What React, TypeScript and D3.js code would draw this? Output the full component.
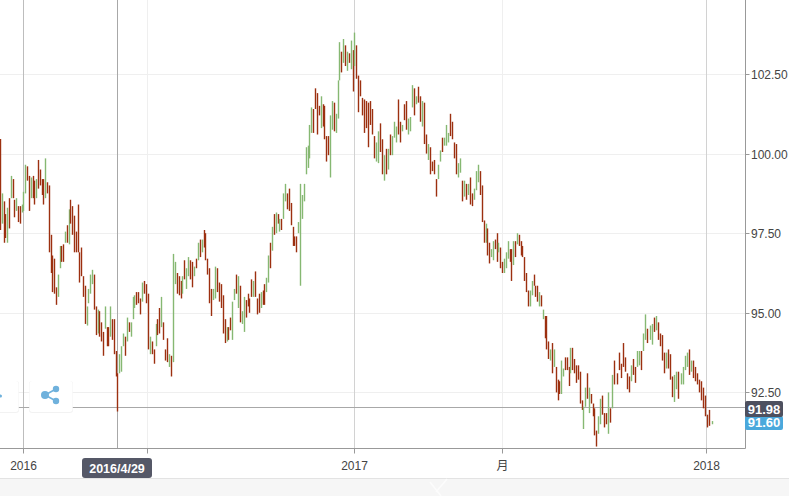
import { useEffect, useRef } from "react";
import * as d3 from "d3";

// [high, low, up?]
type Bar = [number, number, number];

const barsEarly2016: Bar[] = [
  [100.46,97.6,0],[98.75,97.8,1],[98.5,97.2,0],[98.1,97.35,0],[98.3,97.2,1],[98.6,97.65,0],[99.3,98.6,1],[99.2,98.6,0],[98.55,98.0,0],[98.6,98.2,1],
  [98.35,97.85,0],[98.35,97.8,0],[98.4,98.15,1],[98.8,98.2,1],[99.65,98.75,1],[99.6,99.15,0],[99.3,98.2,0],[99.25,98.6,1],[99.3,98.6,0],[99.15,98.4,0],
  [99.2,98.6,1],[99.8,98.9,0],[99.5,99.0,0],[99.2,98.7,0],[99.2,98.4,0],[99.85,98.6,1],[99.1,98.75,0],[99.0,96.9,0],[97.45,96.25,0],[96.8,95.65,0],
  [96.7,95.6,0],[95.8,95.25,0],[96.2,95.5,1],[97.1,96.4,1],[97.1,96.6,0],[97.15,96.6,0],[97.55,97.2,1],[97.75,97.2,0],[98.25,97.15,1],[98.55,97.8,0],
  [98.35,97.45,0],[98.05,96.9,0],[97.55,96.9,0],[98.4,96.9,0],[96.9,95.95,0],[97.05,96.15,0],[96.15,95.5,0],[95.85,94.65,0],[95.2,94.6,1],[95.75,95.3,1],
  [96.2,95.6,1],[96.35,95.9,1],[96.2,95.1,0],[95.2,94.3,0],[95.1,94.35,1],[95.05,94.25,0],[94.7,94.1,0],[94.4,93.65,0],[95.2,94.5,1],[94.55,93.95,0],
  [94.55,93.95,0],[95.2,94.25,1],[94.8,94.15,0],[94.8,93.7,0],[93.8,93.0,0],[93.1,91.9,0],[93.7,93.1,1],
];

const barsMid2016: Bar[] = [
  [93.95,93.15,1],[94.35,93.95,1],[94.25,93.65,0],[94.85,94.1,1],[94.7,94.4,0],[94.7,94.25,1],[95.5,94.8,1],[95.55,95.15,1],[95.65,95.25,0],[95.65,95.3,0],
  [95.45,94.95,0],[95.95,95.35,1],[96,95.6,0],[95.9,95.3,0],[95.6,93.85,0],[94.25,93.7,1],[94.1,93.7,0],[93.85,93.4,0],[94.65,93.95,1],[94.8,94.3,0],
  [95.15,94.35,0],[95.5,94.55,1],[94.7,94.15,0],[93.85,93.5,0],[94.2,93.45,0],[93.7,93.3,1],[93.65,93.0,0],[96.85,93.45,1],[96.6,95.9,1],[96.25,95.6,0],
  [96.15,95.55,0],[96,95.45,0],[96.15,95.6,1],[96.65,96.05,0],[96.4,95.75,1],[96.75,96.15,1],[96.65,96.05,0],[96.6,95.8,0],[96.45,96.15,1],[96.7,96.4,0],
  [97.2,96.65,1],[97.3,96.75,0],[97.3,96.9,1],[97.6,97.05,0],[97.5,96.65,0],[96.7,96.2,0],[96.4,95.3,0],[95.75,94.9,0],[95.75,95.4,1],[96.45,95.45,1],
  [96.4,95.65,0],[95.95,95.35,0],[95.9,95.15,0],[95.55,94.35,0],[94.8,94.05,0],[94.55,94.1,1],[94.55,94.15,0],[94.85,94.45,0],[95.35,94.15,1],[95.75,95.4,1],
  [96.2,95.6,0],[96.15,95.15,1],
];

const barsLate2016: Bar[] = [
  [95.85,94.7,0],[95.05,94.65,1],[95.5,94.4,1],[95.4,94.85,0],[95.6,95.2,0],[95.45,95,0],[96.05,95.5,0],[96,95.5,1],[96.3,95.5,0],[95.45,94.95,0],
  [95.6,95,0],[95.65,95.15,1],[95.7,95.25,0],[95.9,95.25,0],[96.1,95.65,1],[96.8,95.95,1],[97.2,96.4,0],[97.7,96.95,1],[98.1,97.45,0],[98.15,97.5,1],
  [98.1,97.8,0],[97.95,97.55,1],[97.95,97.6,0],[98.75,97.95,1],[99.05,98.5,1],[98.75,98.25,0],[98.9,98.2,0],[98.45,97.75,0],[97.7,97.1,0],[97.4,97.1,0],
  [97.4,96.9,0],[97.85,97.5,1],[99.05,95.85,1],[98.7,97.95,1],[99.05,98.5,1],[100.2,99.35,1],[100.25,99.55,1],[100.9,99.85,1],[101.45,100.65,1],[101.4,100.65,0],
  [102.05,101.4,0],[101.9,100.6,0],[101.5,101.2,0],[101.8,100.8,1],[101.55,100.85,0],[101.5,100.45,0],[100.55,99.75,0],[100.55,99.95,0],[101.2,99.25,1],[101.65,100.75,1],
  [101.6,100.7,0],[101.25,100.65,1],[102.3,101.1,1],[103.5,102.3,1],[103.2,102.55,0],[103.6,102.85,1],[103.4,102.75,0],[103.2,102.6,1],[103.15,102.85,0],[103.55,102.65,1],
  [103.25,101.95,0],[103.8,102.75,1],[103.4,102.35,0],[102.45,101.3,0],
];

const barsEarly2017: Bar[] = [
  [102.3,101.8,0],[101.75,101.2,0],[101.7,100.65,0],[101.65,100.8,0],[101.6,100.2,0],[101.65,100.9,0],[101.4,100.6,0],[100.55,99.85,0],[100.35,99.75,1],[100.7,99.7,1],
  [100.95,100.05,0],[100.45,99.35,0],[99.95,99.15,1],[100.15,99.35,0],[100.15,99.5,1],[100.6,99.95,0],[100.55,99.95,1],[101,100.5,1],[100.85,100.35,1],[101.7,100.6,0],
  [101,100.35,0],[100.9,100.7,1],[101.55,101.05,0],[101.65,100.75,0],[101.1,100.6,1],[101.15,100.7,1],[102.15,101.45,1],[102.05,101.2,0],[101.8,101.55,1],[102.1,101.6,0],
  [101.8,101,0],[101.65,100.85,1],[101.6,100.3,0],[100.6,100,0],[100.3,99.8,1],[100.2,99.35,0],[99.75,99.45,0],[99.8,99.35,0],[99.2,98.65,0],[99.65,99.2,1],
  [100.1,99.75,1],[100.5,100.05,0],[100.5,100.25,1],[100.9,100.25,1],[100.65,100.35,1],[101.25,100.55,0],[101,100.45,0],[100.35,99.85,0],[100.3,99.35,0],[99.7,99.25,1],
  [99.85,99.4,1],[99.15,98.5,0],[99.15,98.65,1],[99.05,98.55,0],[99.05,98.7,1],[99.25,98.4,0],[98.75,98.35,0],[98.9,98.55,1],[99.45,98.85,1],[99.65,99.1,1],
];

const barsMid2017: Bar[] = [
  [99.45,98.7,0],[99,97.85,0],[97.9,97.2,0],[97.8,97.2,1],[97.65,96.8,0],[97.2,96.55,0],[97,96.75,1],[97.25,96.65,1],[97.3,97,0],[97.5,96.6,0],
  [97.2,96.9,1],[97.05,96.4,0],[96.6,96.25,0],[96.7,96.25,1],[96.9,96.4,1],[97.25,96.7,1],[97,96.6,0],[97,96,0],[97.25,96.5,1],[97.25,96.75,0],
  [97.5,97.15,1],[97.45,97.1,0],[97.25,96.8,0],[97.1,96.75,0],[96.75,96,0],[96.25,95.65,0],[95.7,95.2,0],[95.7,95.2,1],[96,95.55,1],[96.2,95.85,0],
  [95.85,95.5,0],[95.85,95.35,0],[95.65,95.2,1],[95.55,95.2,0],[95.1,94.8,1],[94.9,94.2,0],[94.9,93.85,0],[94.1,93.55,0],[93.85,93.5,1],[94.05,93.1,0],
  [93.85,93.3,1],[93.3,92.5,0],[92.9,92.25,0],[92.85,92.45,0],[93.5,92.45,1],[93.25,93,1],[93.6,93.2,0],[93.6,93.2,0],[93.3,92.7,0],[93.9,93.1,1],
  [93.9,93.2,0],[93.55,93.1,0],[93.35,92.8,0],[93.35,92.9,0],[93.15,92.15,0],[92.25,91.95,0],[92.05,91.35,1],[92.65,92.05,1],[93.1,92.3,0],[92.65,91.85,1],
  [92.45,92.15,0],[92.15,91.75,0],[92,91.15,0],[91.3,90.8,0],[91.75,91.2,1],
];

const barsLate2017: Bar[] = [
  [92.3,91.5,1],[92.4,91.8,0],[91.85,91.4,0],[91.85,91.5,0],[92.5,91.2,1],[92,91.55,0],[93.05,92,1],[93.5,92.75,0],[93.1,92.75,0],[93.75,93.2,0],
  [93.4,92.95,0],[94.05,93.3,0],[93.6,93.15,0],[93.1,92.6,0],[93,92.5,0],[93.35,92.85,1],[93.55,93.05,0],[93.3,92.8,0],[93.8,93.3,1],[93.8,93.35,1],
  [93.8,93.2,0],[94.35,93.8,1],[94.95,94.15,1],[94.5,94.05,0],[94.6,94.15,1],[94.65,94,1],[94.85,94.4,0],[94.9,94.45,1],[94.7,94.15,0],[94.35,93.95,0],
  [94.3,93.5,0],[93.75,93.1,0],[93.75,93.25,1],[93.85,93.25,0],[93.7,92.9,0],[93,92.35,0],[93.05,92.2,1],[93.15,92.6,1],[93.15,92.3,0],[93.1,92.75,1],
  [93.3,92.75,1],[93.65,93.2,1],[93.75,93.3,1],[93.85,93.05,0],[93.5,93.15,1],[93.5,92.95,0],[93.3,92.85,0],[93.1,92.75,0],[92.9,92.5,0],[92.85,92.25,0],
  [92.65,92,0],[92.4,91.75,0],[91.8,91.4,0],[91.95,91.45,0],[91.6,91.5,1],
];

const periods = [barsEarly2016, barsMid2016, barsLate2016, barsEarly2017, barsMid2017, barsLate2017];
const priceTicks = [92.5, 95, 97.5, 100, 102.5];
// tick label + bar index it falls on
const dateTicks: [string, number][] = [["2016", 13], ["", 80.5], ["2017", 190], ["月", 265], ["2018", 369.3]];
const crosshairBar = 65;
const crosshairDate = "2016/4/29";
const crosshairPrice = 91.98;
const lastPrice = 91.6;

const W = 789;
const H = 496;
const PLOT_R = 745.5;
const PLOT_B = 448.5;

export default function App() {
  const svgRef = useRef<SVGSVGElement>(null);

  useEffect(() => {
    if (!svgRef.current) return;
    const svg = d3.select(svgRef.current);
    svg.selectAll("*").remove();

    const font = "Arial, 'Liberation Sans', sans-serif";
    const all = periods.flat();
    const starts = [0];
    periods.forEach((p) => starts.push(starts[starts.length - 1] + p.length));
    starts[starts.length - 1] -= 1;

    const x = d3.scaleLinear().domain(starts).range([0, 121, 240, 360, 480, 600, 711.5]);
    const y = d3.scaleLinear().domain([92.5, 102.5]).range([392.4, 74]);

    // bottom strip
    svg.append("rect").attr("width", W).attr("height", H).attr("fill", "#fff");
    svg.append("rect").attr("y", 478).attr("width", W).attr("height", H - 478).attr("fill", "#f6f6f6");
    svg.append("line").attr("x1", 0).attr("x2", W).attr("y1", 478.5).attr("y2", 478.5).attr("stroke", "#e3e3e3");
    svg.append("path").attr("d", "M430,482L441,496M447,479L436,492").attr("stroke", "#fcfcfc").attr("stroke-width", 1.5).attr("fill", "none");

    // grid
    svg.append("g").selectAll("line").data(priceTicks).join("line")
      .attr("x1", 0).attr("x2", PLOT_R)
      .attr("y1", (d) => Math.round(y(d)) + 0.5).attr("y2", (d) => Math.round(y(d)) + 0.5)
      .attr("stroke", "#efefef");
    svg.append("g").selectAll("line").data(dateTicks).join("line")
      .attr("x1", (d) => Math.round(x(d[1])) + 0.5).attr("x2", (d) => Math.round(x(d[1])) + 0.5)
      .attr("y1", 0).attr("y2", PLOT_B)
      .attr("stroke", (d) => (d[0] === "2016" ? "#bdbdbd" : d[0] === "2017" || d[0] === "2018" ? "#d2d2d2" : "#efefef"));

    // crosshair
    const cx = Math.round(x(crosshairBar)) + 0.5;
    const cy = Math.floor(y(crosshairPrice)) - 0.5;
    svg.append("line").attr("x1", cx).attr("x2", cx).attr("y1", 0).attr("y2", PLOT_B).attr("stroke", "#a8a8a8");
    svg.append("line").attr("x1", 0).attr("x2", PLOT_R).attr("y1", cy).attr("y2", cy).attr("stroke", "#a8a8a8");

    // bars
    svg.append("g").selectAll("line").data(all).join("line")
      .attr("x1", (_, i) => Math.round(x(i)) + 0.5).attr("x2", (_, i) => Math.round(x(i)) + 0.5)
      .attr("y1", (d) => y(d[0])).attr("y2", (d) => y(d[1]))
      .attr("stroke", (d) => (d[2] ? "#86b872" : "#9c3010"))
      .attr("stroke-width", 1.4);

    // tool buttons
    const btn = svg.append("g");
    [[-30, 49], [29, 44]].forEach(([bx, bw]) => {
      btn.append("rect").attr("x", bx).attr("y", 381).attr("width", bw).attr("height", 32).attr("rx", 3).attr("fill", "#ededed").attr("opacity", 0.7);
      btn.append("rect").attr("x", bx + 0.5).attr("y", 381).attr("width", bw - 1).attr("height", 31).attr("rx", 3).attr("fill", "#fff");
    });
    btn.append("circle").attr("cx", 0.5).attr("cy", 396).attr("r", 1.5).attr("fill", "#6fb1dc");
    btn.append("path").attr("d", "M56,389L45,395L56,401").attr("fill", "none").attr("stroke", "#6fb1dc").attr("stroke-width", 1.6);
    [[45, 395, 4], [56, 389, 3.2], [56, 401, 3.2]].forEach(([a, b, r]) => {
      btn.append("circle").attr("cx", a).attr("cy", b).attr("r", r).attr("fill", "#6fb1dc");
    });

    // axes
    svg.append("path").attr("d", `M0,${PLOT_B}H${PLOT_R}V0`).attr("fill", "none").attr("stroke", "#999");
    const yAxis = svg.append("g").selectAll("g").data(priceTicks).join("g")
      .attr("transform", (d) => `translate(${PLOT_R},${Math.round(y(d)) + 0.5})`);
    yAxis.append("line").attr("x2", 4).attr("stroke", "#999");
    yAxis.append("text").attr("x", 5.5).attr("dy", "0.35em").attr("font-family", font).attr("font-size", 12).attr("fill", "#444")
      .text((d) => d.toFixed(2));

    const xAxis = svg.append("g").selectAll("g").data(dateTicks).join("g")
      .attr("transform", (d) => `translate(${Math.round(x(d[1])) + 0.5},${PLOT_B})`);
    xAxis.append("line").attr("y2", 5).attr("stroke", "#999");
    xAxis.append("text").attr("y", 21).attr("text-anchor", "middle").attr("font-family", "Arial, 'Liberation Sans', 'Noto Sans CJK SC', sans-serif")
      .attr("font-size", 12).attr("fill", "#444").text((d) => d[0]);

    // price badges
    const badge = (val: number, top: number, h: number, fill: string, by: number) => {
      svg.append("rect").attr("x", 745).attr("y", top).attr("width", 38).attr("height", h).attr("rx", 2).attr("fill", fill);
      svg.append("text").attr("x", 764).attr("y", by).attr("text-anchor", "middle").attr("font-family", font)
        .attr("font-size", 13).attr("font-weight", "bold").attr("fill", "#fff").text(val.toFixed(2));
    };
    badge(lastPrice, 416, 14, "#4aa8dc", 427);
    badge(crosshairPrice, 401, 16, "#4d505f", 414);

    // date tooltip
    svg.append("rect").attr("x", 82).attr("y", 458).attr("width", 70).attr("height", 20).attr("rx", 3).attr("fill", "#555867");
    svg.append("text").attr("x", 117).attr("y", 472.5).attr("text-anchor", "middle").attr("font-family", font)
      .attr("font-size", 12.5).attr("font-weight", "bold").attr("fill", "#fff").text(crosshairDate);
  }, []);

  return <svg ref={svgRef} width={W} height={H} style={{ position: "fixed", left: 0, top: 0, display: "block" }} />;
}
